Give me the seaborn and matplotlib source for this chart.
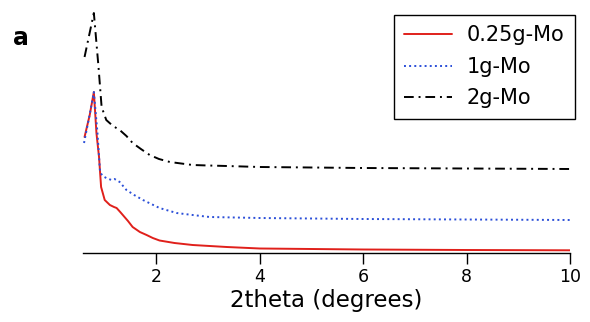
import numpy as np
import pandas as pd
import seaborn as sns
import matplotlib.pyplot as plt

# 2theta positions (degrees) and intensities (arb. units)
x_red = [0.61, 0.71, 0.79, 0.84, 0.89, 0.93, 1.00, 1.10, 1.18, 1.23, 1.30, 1.35, 1.45,
         1.54, 1.68, 1.81, 1.93, 2.06, 2.35, 2.70, 3.36, 4.0, 6.0, 8.0, 10.0]
y_red = [116, 138, 161, 120, 96, 66, 53, 48, 46, 45, 41, 38, 32,
         26, 21, 18, 15, 12.5, 10, 8, 6, 4.5, 3.5, 3.0, 2.7]

x_blue = [0.60, 0.70, 0.79, 0.86, 0.91, 0.96, 1.03, 1.13, 1.19, 1.29, 1.42, 1.57,
          1.74, 1.90, 2.06, 2.39, 2.70, 3.03, 4.0, 6.0, 8.0, 10.0]
y_blue = [110, 136, 161, 120, 81, 77, 75, 73, 74, 71, 63, 58,
          53, 49, 45, 40, 38, 36, 35, 34, 33.5, 33]

x_black = [0.61, 0.79, 0.88, 0.94, 1.03, 1.16, 1.29, 1.42, 1.54, 1.70, 1.87, 2.05,
           2.26, 2.70, 3.00, 3.36, 4.0, 6.0, 8.0, 10.0]
y_black = [196, 240, 186, 146, 133, 127, 123, 117, 110, 104, 98, 94,
           91, 88, 87.5, 87, 86, 85, 84.5, 84]

labels = ['0.25g-Mo', '1g-Mo', '2g-Mo']
colors = ['#e0201b', '#2b4fd8', 'black']
styles = ['-', ':', (0, (5, 2.5, 1, 2.5))]

sns.set_theme(style='white')
plt.rcParams['font.family'] = ['DejaVu Sans']
plt.rcParams['text.color'] = 'black'
plt.rcParams['axes.labelcolor'] = 'black'

fig = plt.figure(figsize=(5.9, 3.22), dpi=100)
ax = fig.add_axes([83 / 590, 69 / 322, 487 / 590, 253 / 322])

series = [(x_red, y_red), (x_blue, y_blue), (x_black, y_black)]
for (xs, ys), lab, c, ls in zip(series, labels, colors, styles):
    df = pd.DataFrame({'x': xs, 'y': ys})
    sns.lineplot(data=df, x='x', y='y', ax=ax, color=c, linestyle=ls,
                 linewidth=1.4, label=lab)

ax.set_xlim(0.58, 10)
ax.set_ylim(0, 253)
ax.set_xticks([2, 4, 6, 8, 10])
ax.set_yticks([])
ax.set_ylabel('')
ax.set_xlabel('2theta (degrees)', fontsize=16.5, labelpad=2, color='black')
ax.tick_params(axis='x', direction='out', length=8, width=1, colors='black',
               labelsize=12.5, pad=3, bottom=True)
sns.despine(ax=ax, left=True)
ax.spines['bottom'].set_color('black')
ax.spines['bottom'].set_linewidth(1)

leg = ax.legend(loc='upper right', bbox_to_anchor=(575 / 590, 1 - 15 / 322),
                bbox_transform=fig.transFigure, borderaxespad=0, fontsize=15,
                fancybox=False, framealpha=1, edgecolor='black',
                handlelength=2.3, handletextpad=0.7, labelspacing=0.55,
                borderpad=0.5)
leg.get_frame().set_linewidth(1)
for t in leg.get_texts():
    t.set_color('black')

fig.text(21 / 590, 1 - 38 / 322, 'a', fontsize=17, fontweight='bold',
         ha='center', va='center', color='black')

fig.savefig('out.png', dpi=100)
